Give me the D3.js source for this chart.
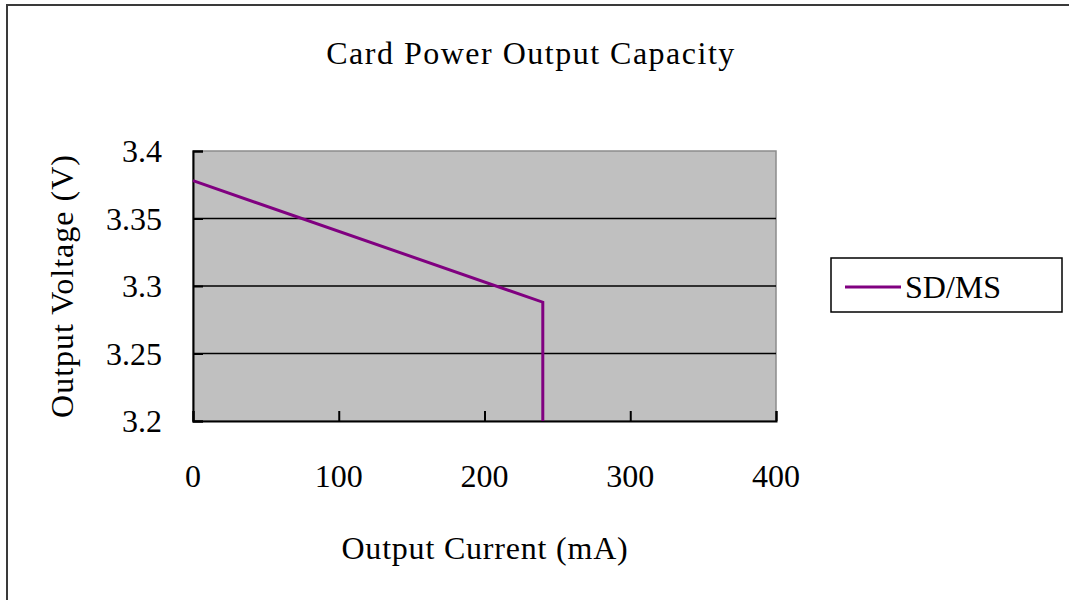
<!DOCTYPE html>
<html>
<head>
<meta charset="utf-8">
<script src="https://cdn.jsdelivr.net/npm/d3@7"></script>
<style>
  body { margin: 0; background: #fff; }
  text { font-family: "Liberation Serif", serif; font-size: 32px; fill: #000; }
</style>
</head>
<body>
<div id="chart"></div>
<script>
// data
var current = [0, 240, 240];
var voltage = [3.378, 3.288, 3.2];
var xTicks = [0, 100, 200, 300, 400];
var yTicks = [3.2, 3.25, 3.3, 3.35, 3.4];
var seriesName = "SD/MS";
var chartTitle = "Card Power Output Capacity";
var xTitle = "Output Current (mA)";
var yTitle = "Output Voltage (V)";

var W = 1069, H = 600;
var plot = {left: 193, right: 776, top: 151, bottom: 421};

var svg = d3.select("#chart")
    .append("svg")
    .attr("width", W)
    .attr("height", H);

// outer chart border (right and bottom are cut off in the original)
svg.append("rect")
    .attr("x", 7).attr("y", 5)
    .attr("width", W + 20).attr("height", H + 20)
    .attr("fill", "#fff")
    .attr("stroke", "#3a3a3a")
    .attr("stroke-width", 2);

var x = d3.scaleLinear().domain([0, 400]).range([plot.left, plot.right]);
var y = d3.scaleLinear().domain([3.2, 3.4]).range([plot.bottom, plot.top]);

// plot area
svg.append("rect")
    .attr("x", plot.left).attr("y", plot.top)
    .attr("width", plot.right - plot.left)
    .attr("height", plot.bottom - plot.top)
    .attr("fill", "#c0c0c0")
    .attr("stroke", "#8c8c8c")
    .attr("stroke-width", 1.5);

// gridlines
svg.selectAll(".grid")
    .data(yTicks.slice(1, -1))
    .enter()
    .append("line")
    .attr("x1", plot.left).attr("x2", plot.right)
    .attr("y1", function(d) { return y(d); })
    .attr("y2", function(d) { return y(d); })
    .attr("stroke", "#000")
    .attr("stroke-width", 1.5);

// axes with inward ticks
var yAxis = svg.append("g")
    .attr("transform", "translate(" + plot.left + ",0)")
    .call(d3.axisRight(y).tickValues(yTicks).tickSize(10).tickFormat(""));
var xAxis = svg.append("g")
    .attr("transform", "translate(0," + plot.bottom + ")")
    .call(d3.axisTop(x).tickValues(xTicks).tickSize(10).tickFormat(""));
[xAxis, yAxis].forEach(function(a) {
    a.selectAll("path, line").attr("stroke", "#000").attr("stroke-width", 2);
});

// tick labels
svg.selectAll(".ylab")
    .data(yTicks)
    .enter()
    .append("text")
    .attr("x", 162)
    .attr("y", function(d) { return y(d) + 11; })
    .attr("text-anchor", "end")
    .text(function(d) { return d; });

svg.selectAll(".xlab")
    .data(xTicks)
    .enter()
    .append("text")
    .attr("x", function(d) { return x(d); })
    .attr("y", 487)
    .attr("text-anchor", "middle")
    .text(function(d) { return d; });

// the series
var line = d3.line()
    .x(function(d) { return x(d[0]); })
    .y(function(d) { return y(d[1]); });

svg.append("path")
    .datum(d3.zip(current, voltage))
    .attr("d", line)
    .attr("fill", "none")
    .attr("stroke", "#800080")
    .attr("stroke-width", 3);

// titles
svg.append("text")
    .attr("x", 531).attr("y", 64)
    .attr("text-anchor", "middle")
    .style("letter-spacing", "1.5px")
    .text(chartTitle);

svg.append("text")
    .attr("x", 485).attr("y", 559)
    .attr("text-anchor", "middle")
    .style("letter-spacing", "0.8px")
    .text(xTitle);

svg.append("text")
    .attr("transform", "translate(73,286) rotate(-90)")
    .attr("text-anchor", "middle")
    .style("letter-spacing", "1px")
    .text(yTitle);

// legend
var legend = svg.append("g").attr("transform", "translate(831,258)");
legend.append("rect")
    .attr("width", 231).attr("height", 54)
    .attr("fill", "#fff")
    .attr("stroke", "#000")
    .attr("stroke-width", 1.5);
legend.append("line")
    .attr("x1", 14).attr("x2", 70)
    .attr("y1", 29).attr("y2", 29)
    .attr("stroke", "#800080")
    .attr("stroke-width", 3);
legend.append("text")
    .attr("x", 74).attr("y", 40)
    .text(seriesName);
</script>
</body>
</html>
